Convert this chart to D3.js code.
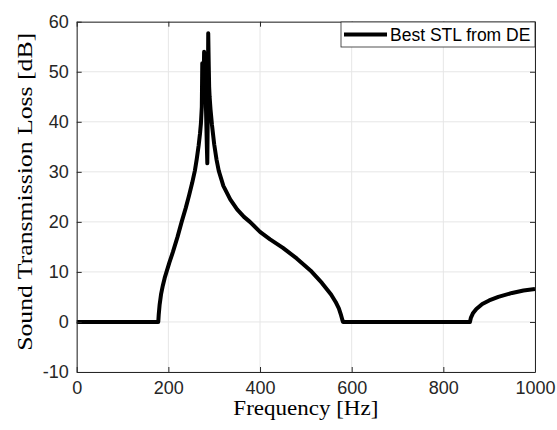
<!DOCTYPE html>
<html><head><meta charset="utf-8">
<script src="https://cdn.jsdelivr.net/npm/d3@7/dist/d3.min.js"></script>
<style>body{margin:0;background:#fff;}svg{display:block;}</style>
</head><body>
<svg id="chart" width="557" height="430"></svg>
<script>
const freq = [0,178,179,181,184,188,192,196,202,210,220,229,238,245,252,258,262,266,269,271,273,274,275,276,277,278,279,280,281,282,283,284,285,286,287,288,289,290,292,295,300,305,310,320,335,350,365,378,400,422,450,480,510,535,555,565,572,577,580,581,858,860,865,872,885,900,920,950,975,1000];
const stl  = [0,0,1.5,3.5,5.5,7.3,8.8,10,11.8,14,17,20,22.8,25.2,27.8,30.3,32.6,35.2,37.6,39.6,43,51.7,47,50,48,54,49,51,46,43,39,35,31.7,42,57.7,52,47,45,42.5,39.5,35.5,32.5,30.2,27.2,24.5,22.5,21,20,18,16.5,14.8,12.7,10.3,7.8,5.5,4,2.7,1.3,0.3,0,0,0.8,1.8,2.6,3.6,4.3,5,5.8,6.3,6.6];
const xTicks = [0,200,400,600,800,1000];
const yTicks = [-10,0,10,20,30,40,50,60];
const seriesName = "Best STL from DE";
const xLabel = "Frequency [Hz]";
const yLabel = "Sound Transmission Loss [dB]";

const svg = d3.select("#chart");
const L = 76.7, R = 535, T = 21.7, B = 372;
const x = d3.scaleLinear().domain([0,1000]).range([L,R]);
const y = d3.scaleLinear().domain([-10,60]).range([B,T]);
const axisCol = "#262626";
const sans = "'Liberation Sans', Arial, sans-serif";
const serif = "'Liberation Serif', 'Times New Roman', serif";
const fmt = d => String(d);

// grid
svg.append("g").selectAll("line").data(xTicks).join("line")
  .attr("x1", d=>x(d)).attr("x2", d=>x(d)).attr("y1", T).attr("y2", B)
  .attr("stroke", "#e6e6e6").attr("stroke-width", 1);
svg.append("g").selectAll("line").data(yTicks).join("line")
  .attr("x1", L).attr("x2", R).attr("y1", d=>y(d)).attr("y2", d=>y(d))
  .attr("stroke", "#e6e6e6").attr("stroke-width", 1);

// data line
const line = d3.line().x((d,i)=>x(freq[i])).y(d=>y(d));
svg.append("path").datum(stl).attr("d", line)
  .attr("fill","none").attr("stroke","#000").attr("stroke-width",4)
  .attr("stroke-linejoin","round");

// axes
const tl = 5;
const xb = svg.append("g").attr("transform",`translate(0,${B})`)
  .call(d3.axisBottom(x).tickValues(xTicks).tickFormat(fmt).tickSizeInner(-tl).tickSizeOuter(0).tickPadding(9));
const xt = svg.append("g").attr("transform",`translate(0,${T})`)
  .call(d3.axisTop(x).tickValues(xTicks).tickSizeInner(-tl).tickSizeOuter(0).tickFormat(""));
const yl = svg.append("g").attr("transform",`translate(${L},0)`)
  .call(d3.axisLeft(y).tickValues(yTicks).tickFormat(fmt).tickSizeInner(-tl).tickSizeOuter(0).tickPadding(8));
const yr = svg.append("g").attr("transform",`translate(${R},0)`)
  .call(d3.axisRight(y).tickValues(yTicks).tickSizeInner(-tl).tickSizeOuter(0).tickFormat(""));
[xb,xt,yl,yr].forEach(g=>{
  g.selectAll("path").attr("stroke",axisCol).attr("stroke-width",1);
  g.selectAll("line").attr("stroke",axisCol).attr("stroke-width",1);
  g.selectAll("text").attr("fill",axisCol).style("font-family",sans).style("font-size","18px");
});
xb.selectAll("text").attr("dy","0.71em");

// axis labels
svg.append("text").attr("x",(L+R)/2).attr("y",415).attr("text-anchor","middle")
  .attr("textLength",145).attr("lengthAdjust","spacingAndGlyphs")
  .style("font-family",serif).style("font-size","20px").attr("fill","#000").text(xLabel);
svg.append("text").attr("transform",`translate(32,${(T+B)/2 - 5}) rotate(-90)`).attr("text-anchor","middle")
  .attr("textLength",318).attr("lengthAdjust","spacingAndGlyphs")
  .style("font-family",serif).style("font-size","21px").attr("fill","#000").text(yLabel);

// legend
const lg = svg.append("g");
lg.append("rect").attr("x",341).attr("y",22).attr("width",194).attr("height",25)
  .attr("fill","#fff").attr("stroke",axisCol).attr("stroke-width",0.8);
lg.append("line").attr("x1",344).attr("x2",387).attr("y1",34.5).attr("y2",34.5)
  .attr("stroke","#000").attr("stroke-width",4);
lg.append("text").attr("x",390).attr("y",41).style("font-family",sans).style("font-size","17.5px")
  .attr("fill","#000").text(seriesName);
</script>
</body></html>
